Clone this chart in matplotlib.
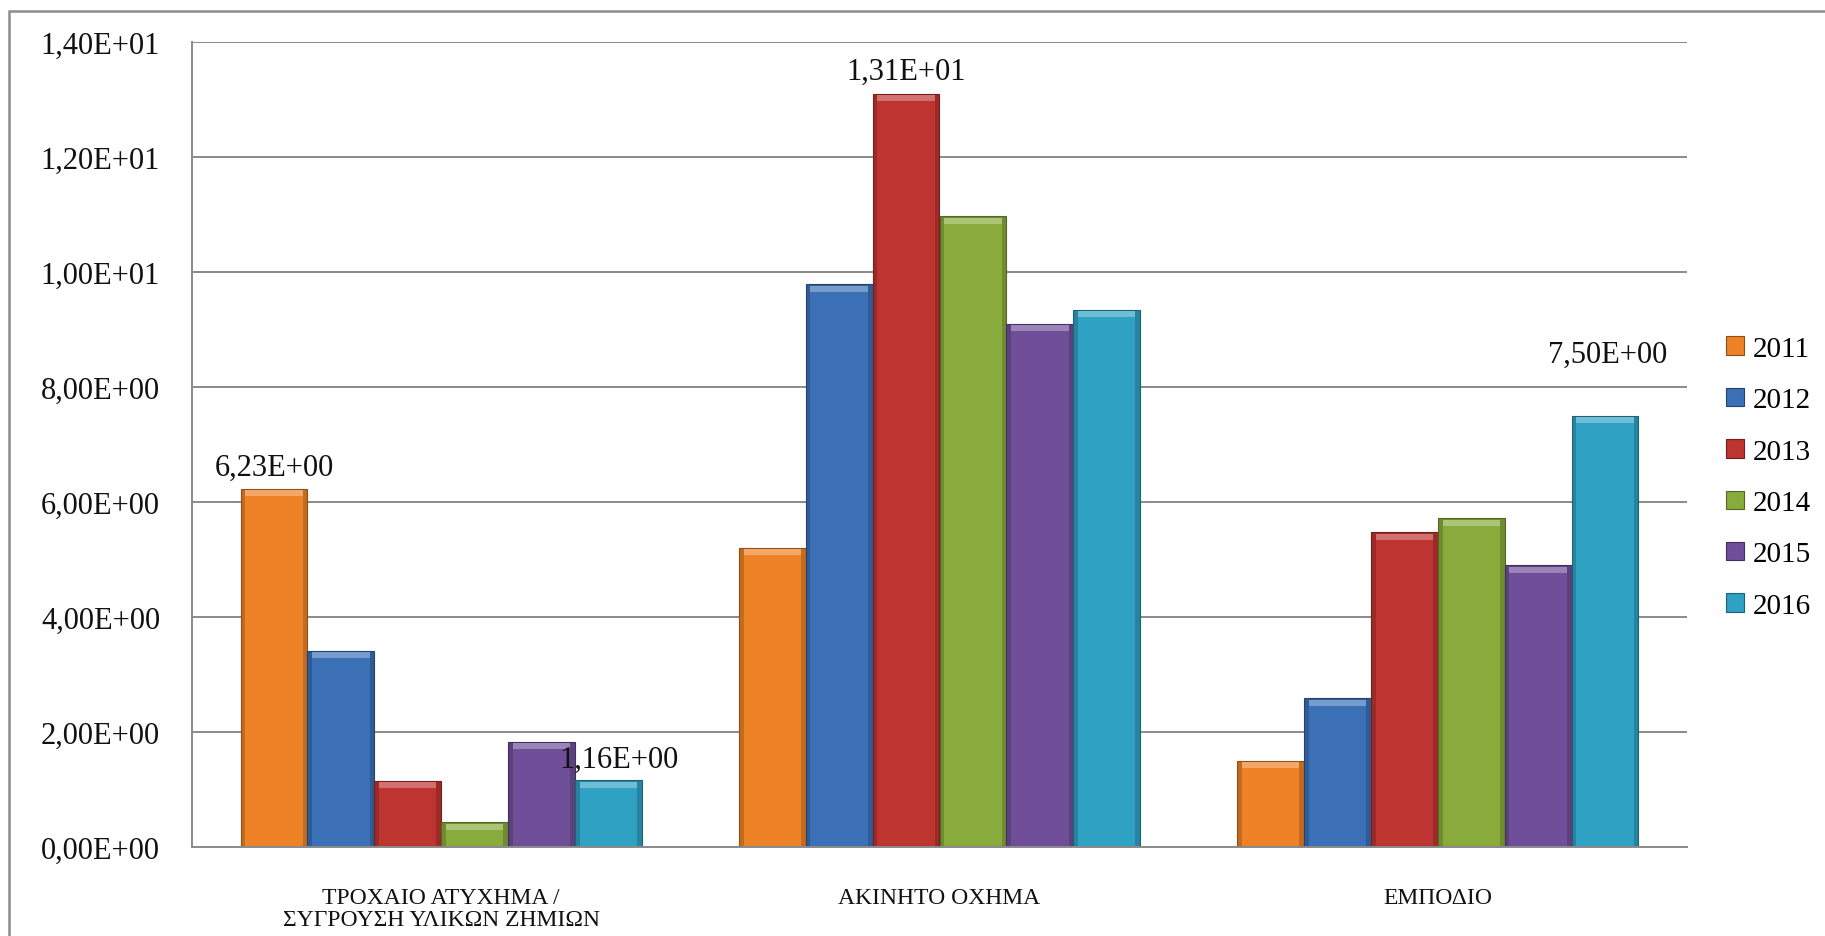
import numpy as np
import matplotlib
matplotlib.use("Agg")
import matplotlib.pyplot as plt
from matplotlib.colors import to_rgb
from matplotlib.patches import Patch, Rectangle
from matplotlib.ticker import FuncFormatter, MultipleLocator

plt.rcParams['font.family'] = ['Liberation Serif', 'DejaVu Serif']

# data
categories = ["ΤΡΟΧΑΙΟ ΑΤΥΧΗΜΑ /\nΣΥΓΡΟΥΣΗ ΥΛΙΚΩΝ ΖΗΜΙΩΝ", "ΑΚΙΝΗΤΟ ΟΧΗΜΑ", "ΕΜΠΟΔΙΟ"]
years = ["2011", "2012", "2013", "2014", "2015", "2016"]
v2011 = [6.23, 5.20, 1.50]
v2012 = [3.41, 9.79, 2.59]
v2013 = [1.15, 13.1, 5.47]
v2014 = [0.43, 10.97, 5.72]
v2015 = [1.83, 9.10, 4.90]
v2016 = [1.16, 9.34, 7.50]
series = [v2011, v2012, v2013, v2014, v2015, v2016]

# labelled bars: (category index, year index, x offset, y offset in points)
labelled = [(0, 0, 0, 5), (0, 5, 8, 5), (1, 2, 0, 6), (2, 5, 2, 34)]

colors = ["#EE8226", "#3B70B7", "#BE3431", "#89AB3B", "#6F4F99", "#2FA1C3"]


def shade(c, f):
    r = np.array(to_rgb(c))
    if f < 0:
        return tuple(r * (1 + f))
    return tuple(r + (1 - r) * f)


def sci_comma(v, pos=None):
    return f"{v:.2E}".replace(".", ",")


fig = plt.figure(figsize=(18.25, 9.37), dpi=100)
ax = fig.add_axes([192 / 1825, 1 - 848 / 937, (1687 - 192) / 1825, (848 - 43) / 937])

x = np.arange(len(categories))
group = 0.805
w = group / len(years)
bevel = 0.13
for i, (vals, c) in enumerate(zip(series, colors)):
    pos = x - group / 2 + w * (i + 0.5)
    vals = np.array(vals)
    # dark rim, main face, light top bevel
    ax.bar(pos, vals, width=w, color=shade(c, -0.18), edgecolor=shade(c, -0.4),
           linewidth=0.8, zorder=3)
    ax.bar(pos, vals - bevel, width=w * 0.86, color=c, linewidth=0, zorder=4)
    ax.bar(pos, bevel * 0.8, bottom=vals - bevel, width=w * 0.86,
           color=shade(c, 0.3), linewidth=0, zorder=4)

for ci, yi, dx, dy in labelled:
    val = series[yi][ci]
    pos = x[ci] - group / 2 + w * (yi + 0.5)
    ax.annotate(sci_comma(val), (pos, val), xytext=(dx, dy), textcoords="offset points",
                ha="center", va="bottom", fontsize=22, color="#111111", zorder=6)

ax.set_xlim(-0.5, len(categories) - 0.5)
ax.set_ylim(0, 14)
ax.yaxis.set_major_locator(MultipleLocator(2))
ax.yaxis.set_major_formatter(FuncFormatter(sci_comma))
ax.set_xticks(x)
ax.set_xticklabels(categories, fontsize=17, linespacing=1.05, color="#111111")
ax.tick_params(axis="x", length=0, pad=29)
ax.tick_params(axis="y", length=0, pad=23, labelsize=22, labelcolor="#111111")

ax.grid(axis="y", color="#8a8a8a", linewidth=1.4, zorder=0)
ax.set_axisbelow(True)
for s in ["top", "right"]:
    ax.spines[s].set_visible(False)
for s in ["left", "bottom"]:
    ax.spines[s].set_color("#8a8a8a")
    ax.spines[s].set_linewidth(1.4)
ax.spines["bottom"].set_zorder(5)

handles = [Patch(facecolor=c, edgecolor=shade(c, -0.4), linewidth=0.8) for c in colors]
fig.legend(handles, years, loc="upper left", bbox_to_anchor=(1726 / 1825, 1 - 337 / 937),
           frameon=False, fontsize=21, handlelength=0.6, handleheight=0.6,
           handletextpad=0.3, labelspacing=0.87, borderpad=0, borderaxespad=0)

# outer chart border (only left and top visible in the crop)
fig.add_artist(Rectangle((9 / 1825, -0.2), 1.5, 1.2 - 12 / 937,
                         transform=fig.transFigure, fill=False,
                         edgecolor="#8c8c8c", linewidth=1.8))

fig.savefig("out.png", dpi=100)
